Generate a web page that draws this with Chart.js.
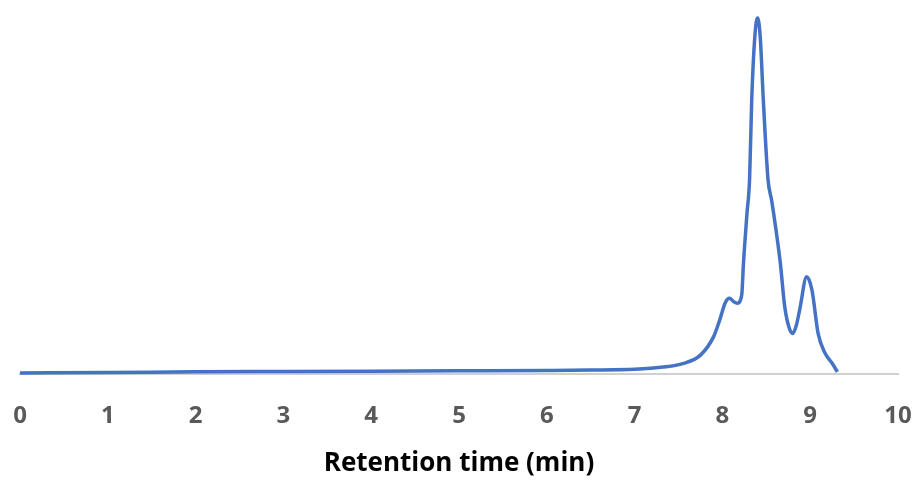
<!DOCTYPE html>
<html>
<head>
<meta charset="utf-8">
<script src="https://cdn.jsdelivr.net/npm/chart.js@4/dist/chart.umd.min.js"></script>
<style>
  html, body { margin: 0; padding: 0; background: #fff; }
  #wrap { width: 919px; height: 483px; }
</style>
</head>
<body>
<div id="wrap"><canvas id="chrom"></canvas></div>
<script>
// retention time (min) and detector signal (relative, peak = 100)
var retentionTime = [0, 1, 2, 3, 4, 5, 6, 6.5, 7.0, 7.18, 7.56, 7.75, 7.90, 7.97, 8.03, 8.08, 8.13, 8.17, 8.22, 8.24, 8.28, 8.31, 8.334, 8.37, 8.40, 8.43, 8.466, 8.52, 8.56, 8.60, 8.66, 8.71, 8.76, 8.80, 8.84, 8.88, 8.96, 9.02, 9.09, 9.17, 9.25, 9.31];
var signal = [0.3, 0.4, 0.6, 0.7, 0.8, 0.9, 1.0, 1.1, 1.3, 1.6, 3.0, 5.3, 10.5, 15.2, 19.9, 21.3, 20.3, 19.9, 22.2, 31.1, 45.1, 55, 77, 95, 100, 95, 77, 54.5, 48.9, 42.3, 31.1, 18.9, 13, 11.4, 13.5, 18, 27.3, 23.6, 11.4, 5.8, 3.0, 0.6];
var xTicks = [0, 1, 2, 3, 4, 5, 6, 7, 8, 9, 10];

var points = retentionTime.map(function (t, i) {
    return { x: t, y: signal[i] };
});

var ctx = document.getElementById('chrom').getContext('2d');
var chart = new Chart(ctx, {
    type: 'line',
    data: {
        datasets: [{
            data: points,
            borderColor: '#4472C4',
            borderWidth: 3.5,
            pointRadius: 0,
            fill: false,
            cubicInterpolationMode: 'monotone',
            clip: false
        }]
    },
    options: {
        responsive: true,
        maintainAspectRatio: false,
        animation: false,
        layout: {
            padding: { top: 18, left: 20, right: 21, bottom: 0 }
        },
        plugins: {
            legend: { display: false },
            tooltip: { enabled: false }
        },
        scales: {
            x: {
                type: 'linear',
                min: 0,
                max: 10,
                afterBuildTicks: function (scale) {
                    scale.ticks = xTicks.map(function (v) { return { value: v }; });
                },
                afterFit: function (scale) {
                    // fixed axis band height, and no extra side padding for the labels
                    scale.height = 109;
                    scale.paddingLeft = 0;
                    scale.paddingRight = 0;
                },
                grid: { display: false, drawTicks: false },
                border: { display: true, color: '#D0D0D0', width: 2 },
                ticks: {
                    padding: 28,
                    color: '#595959',
                    maxRotation: 0,
                    font: { family: 'Open Sans', size: 24, weight: 'bold' }
                },
                title: {
                    display: true,
                    text: 'Retention time (min)',
                    color: '#000000',
                    padding: { top: 0, bottom: 4 },
                    font: { family: 'Open Sans', size: 26, weight: 'bold' }
                }
            },
            y: {
                display: false,
                min: 0,
                max: 100
            }
        }
    }
});
</script>
</body>
</html>
